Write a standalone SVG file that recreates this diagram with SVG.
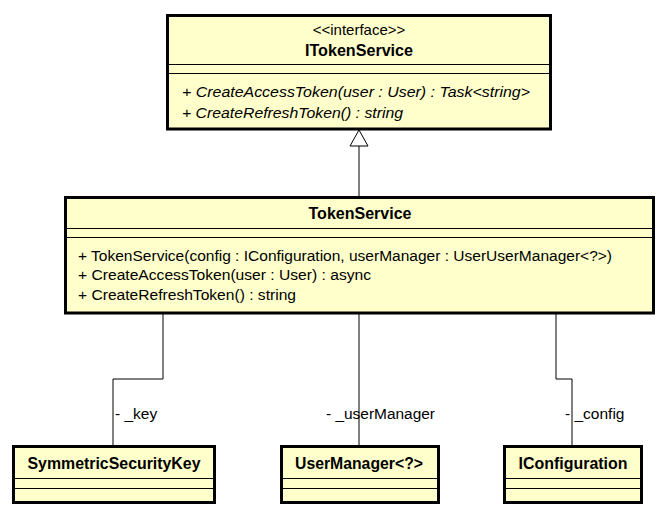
<svg xmlns="http://www.w3.org/2000/svg" width="668" height="516" viewBox="0 0 668 516">
<style>
  .box { fill: #FFFFCC; stroke: #000; stroke-width: 3; }
  .sep { stroke: #000; stroke-width: 1; }
  .t { font-family: "Liberation Sans", Arial, sans-serif; font-size: 15.5px; fill: #000; }
  .b { font-weight: bold; font-size: 16px; }
  .i { font-style: italic; }
  .c { text-anchor: middle; }
  .edge { fill: none; stroke: #000; stroke-width: 1; }
</style>
<rect width="668" height="516" fill="#FFFFFF"/>
<g id="connectors">
  <line class="edge" x1="359" y1="197" x2="359" y2="146"/>
  <polygon points="359,130 350,146 368,146" fill="#FFFFFF" stroke="#000" stroke-width="1"/>
  <polyline class="edge" points="163,313 163,379 113,379 113,446"/>
  <text class="t" x="115" y="419">- _key</text>
  <line class="edge" x1="359" y1="313" x2="359" y2="446"/>
  <text class="t" x="326" y="419" textLength="109" lengthAdjust="spacingAndGlyphs">- _userManager</text>
  <polyline class="edge" points="556,313 556,379 572,379 572,446"/>
  <text class="t" x="565" y="419">- _config</text>
</g>
<g id="ITokenService">
  <rect class="box" x="167.5" y="15.5" width="383" height="113.5"/>
  <line class="sep" x1="169" y1="64.5" x2="549" y2="64.5"/>
  <line class="sep" x1="169" y1="73.5" x2="549" y2="73.5"/>
  <text class="t c" x="359" y="35" style="font-size:15px">&lt;&lt;interface&gt;&gt;</text>
  <text class="t b c" x="359" y="56" textLength="108" lengthAdjust="spacingAndGlyphs">ITokenService</text>
  <text class="t i" x="182" y="97" textLength="348" lengthAdjust="spacingAndGlyphs">+ CreateAccessToken(user : User) : Task&lt;string&gt;</text>
  <text class="t i" x="182" y="118" textLength="221" lengthAdjust="spacingAndGlyphs">+ CreateRefreshToken() : string</text>
</g>
<g id="TokenService">
  <rect class="box" x="65.5" y="197.5" width="588" height="115.5"/>
  <line class="sep" x1="67" y1="228.5" x2="652" y2="228.5"/>
  <line class="sep" x1="67" y1="237.5" x2="652" y2="237.5"/>
  <text class="t b c" x="360" y="218.5" textLength="103" lengthAdjust="spacingAndGlyphs">TokenService</text>
  <text class="t" x="78" y="261" textLength="534" lengthAdjust="spacingAndGlyphs">+ TokenService(config : IConfiguration, userManager : UserUserManager&lt;?&gt;)</text>
  <text class="t" x="78" y="280" textLength="293" lengthAdjust="spacingAndGlyphs">+ CreateAccessToken(user : User) : async</text>
  <text class="t" x="78" y="300" textLength="218" lengthAdjust="spacingAndGlyphs">+ CreateRefreshToken() : string</text>
</g>
<g id="SymmetricSecurityKey">
  <rect class="box" x="13.5" y="446.5" width="201" height="56"/>
  <line class="sep" x1="15" y1="478.5" x2="213" y2="478.5"/>
  <line class="sep" x1="15" y1="488.5" x2="213" y2="488.5"/>
  <text class="t b c" x="114" y="469" textLength="173" lengthAdjust="spacingAndGlyphs">SymmetricSecurityKey</text>
</g>
<g id="UserManager">
  <rect class="box" x="281.5" y="446.5" width="157" height="56"/>
  <line class="sep" x1="283" y1="478.5" x2="437" y2="478.5"/>
  <line class="sep" x1="283" y1="488.5" x2="437" y2="488.5"/>
  <text class="t b c" x="359" y="469" textLength="128" lengthAdjust="spacingAndGlyphs">UserManager&lt;?&gt;</text>
</g>
<g id="IConfiguration">
  <rect class="box" x="504.5" y="446.5" width="137" height="56"/>
  <line class="sep" x1="506" y1="478.5" x2="640" y2="478.5"/>
  <line class="sep" x1="506" y1="488.5" x2="640" y2="488.5"/>
  <text class="t b c" x="573" y="469" textLength="109" lengthAdjust="spacingAndGlyphs">IConfiguration</text>
</g>
</svg>
